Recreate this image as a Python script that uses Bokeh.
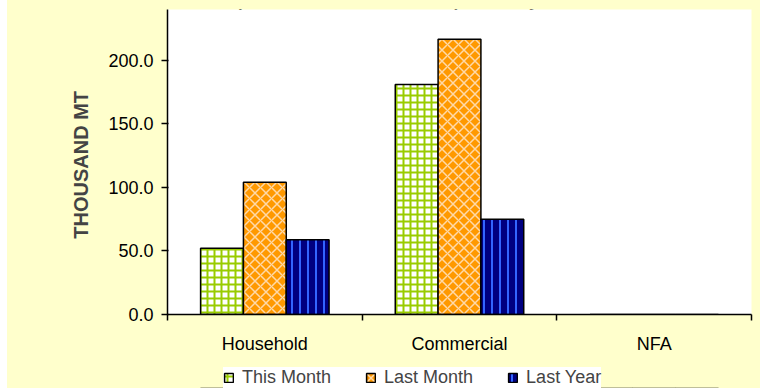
from bokeh.plotting import figure
from bokeh.models import (Range1d, FixedTicker, NumeralTickFormatter, Legend,
                          LegendItem, Label, ColumnDataSource, Spacer)
from bokeh.layouts import row, column
from bokeh.embed import file_html
from bokeh.resources import INLINE

# ---- data ----
categories = ["Household", "Commercial", "NFA"]
series_names = ["This Month", "Last Month", "Last Year"]
this_month = [52.2, 180.9, 0.0]
last_month = [104.0, 216.5, 0.0]
last_year = [58.9, 74.9, 0.0]
y_ticks = [0, 50, 100, 150, 200]
title_text = "compared with last month and previous year"
y_label = "THOUSAND  MT"

FONT = "Liberation Sans"
BG = "#FFFFCC"

n = len(categories)
centers = [i + 0.5 for i in range(n)]
bw = 0.22
src = ColumnDataSource(dict(
    x1=[c - bw for c in centers], x2=centers, x3=[c + bw for c in centers],
    tm=this_month, lm=last_month, ly=last_year))

styles = [
    dict(x="x1", top="tm", fill_color="white", hatch_pattern="cross", hatch_color="#99CC00",
         hatch_scale=7, hatch_weight=2),
    dict(x="x2", top="lm", fill_color="#FF9900", hatch_pattern="diagonal_cross",
         hatch_color="#FFD9A8", hatch_scale=11, hatch_weight=1.5),
    dict(x="x3", top="ly", fill_color="#000080", hatch_pattern="vertical_line",
         hatch_color="#3366FF", hatch_scale=8, hatch_weight=2),
]

p = figure(width=753, height=358, x_range=Range1d(0, n), y_range=Range1d(0, 240),
           output_backend="svg", toolbar_location=None,
           min_border_left=160, min_border_right=9, min_border_top=9, min_border_bottom=44,
           background_fill_color="white", border_fill_color=BG, outline_line_color=None)
p.grid.visible = False

for st in styles:
    p.vbar(width=bw, source=src, line_color="black", line_width=1.5, **st)

# x axis: labels at centers, tick marks at category boundaries
xa = p.xaxis[0]
xa.ticker = FixedTicker(ticks=centers, minor_ticks=list(range(n + 1)))
xa.major_label_overrides = {c: name for c, name in zip(centers, categories)}
xa.major_tick_line_color = None
xa.major_tick_out = 0
xa.major_tick_in = 0
xa.minor_tick_out = 6
xa.minor_tick_in = 0
xa.minor_tick_line_color = "black"
xa.minor_tick_line_width = 1.5
xa.axis_line_color = "black"
xa.axis_line_width = 1.5
xa.major_label_standoff = 13
xa.major_label_text_font = FONT
xa.major_label_text_font_size = "18px"
xa.major_label_text_color = "black"

ya = p.yaxis[0]
ya.ticker = FixedTicker(ticks=y_ticks, minor_ticks=[])
ya.formatter = NumeralTickFormatter(format="0.0")
ya.major_tick_out = 6
ya.major_tick_in = 1
ya.major_tick_line_width = 1.5
ya.axis_line_width = 1.5
ya.major_label_standoff = 8
ya.major_label_text_font = FONT
ya.major_label_text_font_size = "18px"
ya.major_label_text_color = "black"
ya.axis_label = y_label
ya.axis_label_text_font = FONT
ya.axis_label_text_font_style = "bold"
ya.axis_label_text_font_size = "20px"
ya.axis_label_standoff = 13

title = Label(x=1.11, y=246, text=title_text, text_align="center",
              text_baseline="alphabetic", text_font=FONT, text_font_style="bold",
              text_font_size="17px", text_color="black")
p.add_layout(title)

# legend strip below the chart (same glyph styles; its view lies above all bars)
lf = figure(width=753, height=30, x_range=Range1d(0, n), y_range=Range1d(1000, 1001),
            output_backend="svg", toolbar_location=None,
            x_axis_location=None, y_axis_location=None, min_border=0,
            background_fill_color=BG, border_fill_color=BG, outline_line_color=None)
lf.grid.visible = False
lrs = [lf.vbar(width=bw, source=src, line_color="black", line_width=1.5, **st) for st in styles]

legend = Legend(items=[LegendItem(label=name, renderers=[r]) for name, r in zip(series_names, lrs)],
                orientation="horizontal", location=(56, 0),
                background_fill_color="white", background_fill_alpha=1.0,
                border_line_color=None, glyph_width=11, glyph_height=11,
                label_text_font=FONT, label_text_font_size="18px",
                label_standoff=8, spacing=34, padding=7, margin=0,
                label_height=18)
lf.add_layout(legend, "center")

col = column(p, lf, spacing=0, styles={"background-color": BG})
layout = row(Spacer(width=7, height=388), col)
open("out.html", "w").write(file_html(layout, INLINE))
